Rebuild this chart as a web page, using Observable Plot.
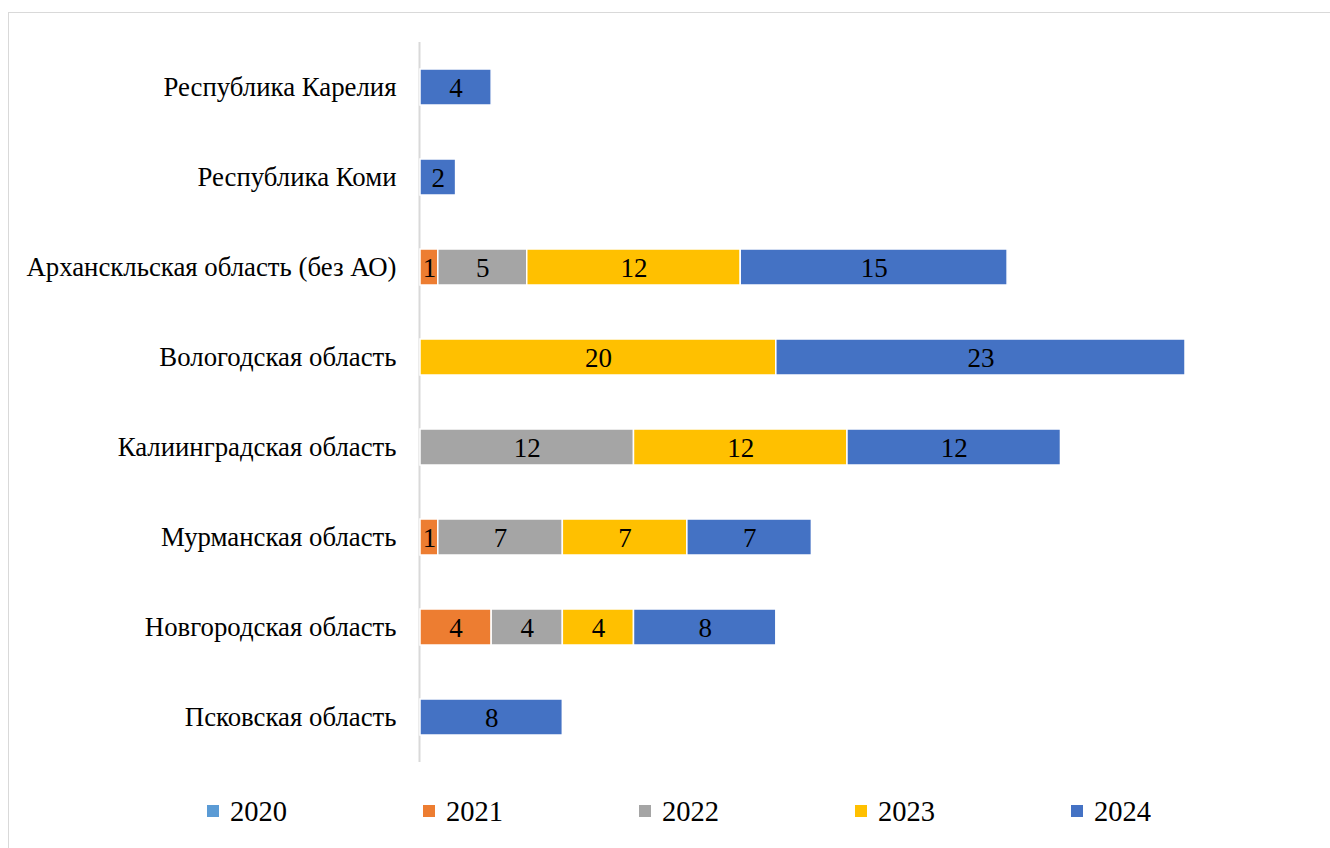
<!DOCTYPE html>
<html><head><meta charset="utf-8">
<script src="https://cdn.jsdelivr.net/npm/d3@7"></script>
<script src="https://cdn.jsdelivr.net/npm/@observablehq/plot@0.6"></script>
<style>
html,body{margin:0;padding:0;background:#fff;width:1330px;height:848px;overflow:hidden;font-family:"Liberation Serif",serif;}
svg, svg text, svg g {font-family:"Liberation Serif",serif !important;}
#frame{position:absolute;left:8px;top:12px;width:1330px;height:900px;border:1.5px solid #d9d9d9;box-sizing:border-box;}
#chart{position:absolute;left:0;top:0;}
#legend{position:absolute;left:0;top:794px;width:1330px;height:40px;}
.item{position:absolute;top:0;display:flex;align-items:center;font-size:30px;color:#000;font-family:"Liberation Serif",serif;}
.sw{width:12px;height:12px;margin-right:11px;}
.lbl{display:inline-block;transform:scaleX(0.95);transform-origin:left center;}
</style></head>
<body>
<div id="frame"></div>
<div id="chart"></div>
<div id="legend"></div>
<script>
const regions = ["Республика Карелия","Республика Коми","Арханскльская область (без АО)","Вологодская область","Калиинградская область","Мурманская область","Новгородская область","Псковская область"];
const years = ["2020","2021","2022","2023","2024"];
const colors = ["#5B9BD5","#ED7D31","#A5A5A5","#FFC000","#4472C4"];
const v2020 = [0,0,0,0,0,0,0,0];
const v2021 = [0,0,1,0,0,1,4,0];
const v2022 = [0,0,5,0,12,7,4,0];
const v2023 = [0,0,12,20,12,7,4,0];
const v2024 = [4,2,15,23,12,7,8,8];
const legendX = [207,423,639,855,1071];

const series = [v2020,v2021,v2022,v2023,v2024];
const data = [];
regions.forEach((r,i)=>{
  years.forEach((y,j)=>{
    const v = series[j][i];
    if (v>0) data.push({region:r, year:y, value:v});
  });
});

const serif = "'Liberation Serif', serif";
const chart = Plot.plot({
  width:1330, height:780,
  marginLeft:420, marginRight:145, marginTop:42, marginBottom:18,
  style:{fontFamily:serif, background:"transparent", color:"#000"},
  x:{domain:[0,43], axis:null},
  y:{domain:regions, paddingInner:0.6, paddingOuter:0.3, label:null},
  color:{domain:years, range:colors},
  marks:[
    Plot.ruleX([0],{stroke:"#d9d9d9", strokeWidth:2, dx:-1}),
    Plot.barX(data, Plot.stackX({x:"value", y:"region", fill:"year", z:"year", stroke:"white", strokeWidth:1.5})),
    Plot.text(data, Plot.stackX({x:"value", y:"region", z:"year", text:"value", fontSize:27, fontFamily:serif, fill:"black", dy:1})),
    Plot.axisY({tickSize:0, tickPadding:24, fontSize:26.8, fontFamily:serif, label:null})
  ]
});
document.getElementById("chart").appendChild(chart);

const leg = document.getElementById("legend");
years.forEach((y,i)=>{
  const d = document.createElement("div");
  d.className="item"; d.style.left=legendX[i]+"px";
  d.innerHTML = `<span class="sw" style="background:${colors[i]}"></span><span class="lbl">${y}</span>`;
  leg.appendChild(d);
});
</script>
</body></html>
